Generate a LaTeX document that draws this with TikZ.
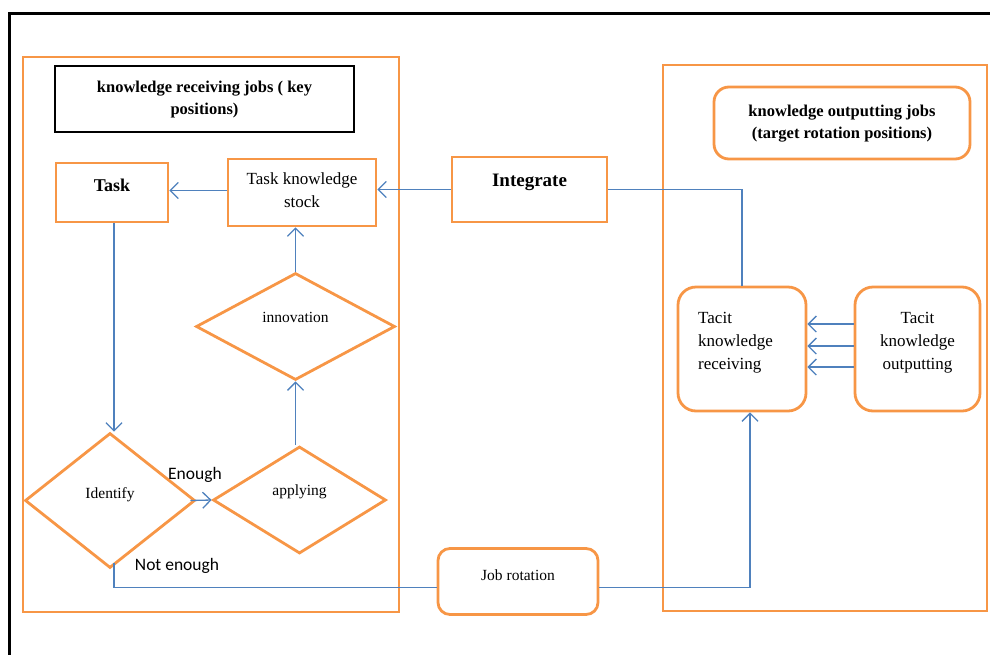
\documentclass[tikz,border=0pt]{standalone}
\usepackage{fontspec}
\setmainfont{Liberation Serif}
\newfontfamily\calib{Carlito}
\usetikzlibrary{shapes.geometric,arrows.meta}
\definecolor{org}{RGB}{247,150,70}
\definecolor{blu}{RGB}{79,129,189}
\tikzset{
  obox/.style={draw=org,line width=2.8pt,inner sep=0pt,align=center},
  rbox/.style={obox,rounded corners=15pt},
  dia/.style={draw=org,line width=2.8pt,diamond,inner sep=0pt,align=center},
  conn/.style={draw=blu,line width=1.3pt},
  arr/.style={conn,-{Straight Barb[length=8pt,width=16pt,line width=1.3pt]}},
  reg/.style={font=\fontsize{17}{23}\selectfont},
  sml/.style={font=\fontsize{15.5}{18}\selectfont},
  bld/.style={font=\fontsize{16.5}{22}\selectfont\bfseries},
  lab/.style={font=\calib\fontsize{17.5}{20}\selectfont,inner sep=0pt}
}
\begin{document}
\begin{tikzpicture}[x=1pt,y=-1pt]
\useasboundingbox (0,0) rectangle (990,654);
\begin{scope}
\clip (0,0) rectangle (990,654);
\draw[line width=3pt] (9,13) rectangle (1005,670);
\end{scope}
% containers
\node[obox,minimum width=376,minimum height=555] (left) at (211,334.5) {};
\node[obox,minimum width=324,minimum height=546] (right) at (825,338) {};
% titles
\node[draw,line width=2.8pt,inner sep=0pt,minimum width=299,minimum height=66,align=center,bld] (t1) at (204.5,99) {\raisebox{1pt}{\begin{tabular}{@{}c@{}}knowledge receiving jobs ( key\\positions)\end{tabular}}};
\node[rbox,minimum width=256,minimum height=72,bld] (t2) at (842,123) {\raisebox{16pt}{\begin{tabular}{@{}c@{}}knowledge outputting jobs\\(target rotation positions)\end{tabular}}};
% boxes
\node[obox,minimum width=112,minimum height=59,font=\fontsize{18}{20}\selectfont\bfseries] (task) at (112,192.5) {\raisebox{15pt}{Task}};
\node[obox,minimum width=148,minimum height=67,reg] (tks) at (302,192.5) {\raisebox{21pt}{\begin{tabular}{@{}c@{}}Task knowledge\\stock\end{tabular}}};
\node[obox,minimum width=155,minimum height=65,font=\fontsize{19}{22}\selectfont\bfseries] (int) at (529.5,189.5) {\raisebox{18pt}{Integrate}};
\node[rbox,minimum width=160,minimum height=66,rounded corners=12pt,sml] (jr) at (518,581.5) {\raisebox{12pt}{Job rotation}};
\node[rbox,minimum width=128,minimum height=124,reg,rounded corners=18pt] (tkr) at (742,349) {\raisebox{44pt}{\begin{tabular}{@{}l@{}}Tacit\\knowledge\\receiving\end{tabular}}\hspace*{13pt}};
\node[rbox,minimum width=125,minimum height=124,reg,rounded corners=18pt] (tko) at (917.5,349) {\raisebox{44pt}{\begin{tabular}{@{}c@{}}Tacit\\knowledge\\outputting\end{tabular}}};
% diamonds
\node[dia,minimum width=170,minimum height=135,sml] (idf) at (110,500.5) {\raisebox{15pt}{Identify}};
\node[dia,minimum width=173,minimum height=107,sml] (app) at (299.5,500) {\raisebox{20pt}{applying}};
\node[dia,minimum width=199,minimum height=107,sml] (inn) at (295.5,326.5) {\raisebox{18pt}{innovation}};
% labels
\node[lab] (enough) at (195,475) {Enough};
\node[lab] (notenough) at (177,566) {Not enough};
% helper coordinates
\coordinate (jrw) at ([yshift=-6pt]jr.west);
\coordinate (jre) at ([yshift=-6pt]jr.east);
% connectors
\draw[arr] ([yshift=2pt]tks.west) -- ([yshift=2pt]tks.west -| task.east);
\draw[arr] (int.west) -- (int.west -| tks.east);
\draw[conn] (int.east) -| (tkr.north);
\draw[arr] ([xshift=2pt]task.south) -- ([xshift=2pt]task.south |- idf.north);
\draw[arr] ([xshift=-6pt]idf.east) -- (app.west);
\draw[arr] (inn.south |- app.north) -- (inn.south);
\draw[arr] (inn.north) -- (tks.south -| inn.north);
\draw[conn] ([xshift=4pt,yshift=6pt]idf.south) -- ([xshift=4pt]idf.south |- jrw) -- (jrw);
\draw[arr] (jre) -| ([xshift=8pt]tkr.south);
\draw[arr] ([yshift=25pt]tko.west) -- ([yshift=25pt]tkr.east);
\draw[arr] ([yshift=3pt]tko.west) -- ([yshift=3pt]tkr.east);
\draw[arr] ([yshift=-18pt]tko.west) -- ([yshift=-18pt]tkr.east);
\end{tikzpicture}
\end{document}
